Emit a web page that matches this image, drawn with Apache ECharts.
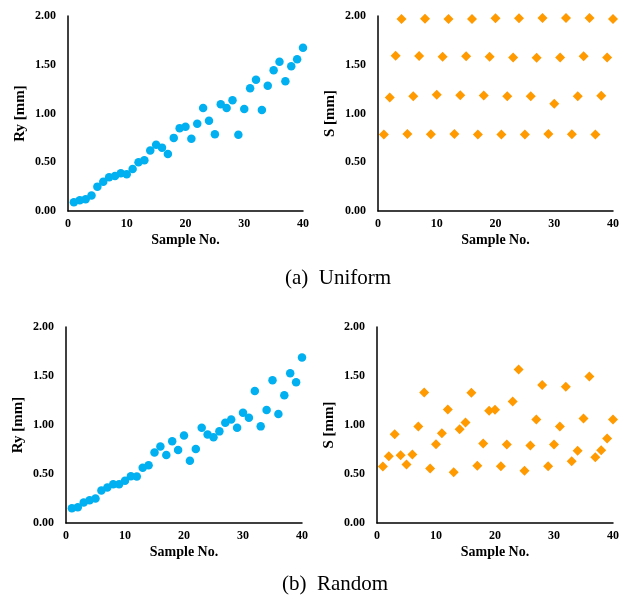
<!DOCTYPE html>
<html>
<head>
<meta charset="utf-8">
<script src="https://cdn.jsdelivr.net/npm/echarts@6/dist/echarts.min.js"></script>
<style>html,body{margin:0;padding:0;background:#fff}#c{width:634px;height:597px}</style>
</head>
<body>
<div id="c"></div>
<script>
const sampleNo = Array.from({length: 40}, (_, i) => i + 1);
const yTicks = ['0.00', '0.50', '1.00', '1.50', '2.00'];
const xTicks = [0, 10, 20, 30, 40];

const uniformRy = [0.09,0.11,0.12,0.16,0.25,0.30,0.345,0.36,0.386,0.376,
  0.43,0.50,0.52,0.62,0.68,0.65,0.585,0.75,0.85,0.865,
  0.74,0.895,1.056,0.926,0.786,1.094,1.056,1.135,0.783,1.046,
  1.258,1.347,1.036,1.285,1.443,1.53,1.33,1.484,1.556,1.675];
const uniformS = [0.784,1.164,1.592,1.969,0.791,1.178,1.589,1.973,0.788,1.192,
  1.582,1.969,0.791,1.188,1.586,1.969,0.784,1.185,1.582,1.976,
  0.784,1.178,1.575,1.976,0.784,1.178,1.572,1.979,0.791,1.099,
  1.575,1.979,0.788,1.178,1.586,1.979,0.784,1.181,1.575,1.969];
const randomRy = [0.15,0.16,0.21,0.232,0.249,0.331,0.362,0.396,0.396,0.43,
  0.478,0.474,0.563,0.59,0.72,0.78,0.693,0.833,0.744,0.894,
  0.635,0.754,0.973,0.904,0.874,0.935,1.024,1.055,0.973,1.126,
  1.075,1.348,0.986,1.154,1.457,1.113,1.304,1.529,1.437,1.689];
const randomS = [0.576,0.681,0.906,0.692,0.596,0.698,0.985,1.332,0.555,0.804,
  0.917,1.158,0.518,0.957,1.026,1.329,0.583,0.811,1.145,1.155,
  0.579,0.801,1.24,1.567,0.532,0.79,1.056,1.407,0.579,0.801,
  0.985,1.39,0.63,0.736,1.066,1.496,0.671,0.743,0.862,1.056];

const panels = [
  {data: uniformRy, yName: 'Ry [mm]', symbol: 'circle', size: 8.5, color: '#00B0F0', grid: {left: 68, top: 16, width: 235, height: 195}},
  {data: uniformS, yName: 'S [mm]', symbol: 'diamond', size: 10, color: '#FF9A00', grid: {left: 378, top: 16, width: 235, height: 195}},
  {data: randomRy, yName: 'Ry [mm]', symbol: 'circle', size: 8.5, color: '#00B0F0', grid: {left: 66, top: 327, width: 236, height: 196}},
  {data: randomS, yName: 'S [mm]', symbol: 'diamond', size: 10, color: '#FF9A00', grid: {left: 377, top: 327, width: 236, height: 196}}
];

const font = '"Liberation Serif", "Times New Roman", serif';
const axisLine = {show: true, onZero: false, lineStyle: {color: '#000', width: 1.5}};

const option = {
  animation: false,
  backgroundColor: '#fff',
  textStyle: {fontFamily: font},
  grid: panels.map(p => Object.assign({containLabel: false}, p.grid)),
  xAxis: panels.map((p, i) => ({
    type: 'value', gridIndex: i, min: xTicks[0], max: xTicks[xTicks.length - 1], interval: 10,
    name: 'Sample No.', nameLocation: 'middle', nameGap: 22,
    nameTextStyle: {fontFamily: font, fontWeight: 'bold', fontSize: 14, color: '#000'},
    axisLine: axisLine, axisTick: {show: false}, splitLine: {show: false},
    axisLabel: {fontFamily: font, fontWeight: 'bold', fontSize: 12, color: '#000', margin: 7}
  })),
  yAxis: panels.map((p, i) => ({
    type: 'value', gridIndex: i, min: 0, max: 2, interval: 0.5,
    name: p.yName, nameLocation: 'middle', nameGap: 40,
    nameTextStyle: {fontFamily: font, fontWeight: 'bold', fontSize: 15, color: '#000'},
    axisLine: axisLine, axisTick: {show: false}, splitLine: {show: false},
    axisLabel: {fontFamily: font, fontWeight: 'bold', fontSize: 12, color: '#000', margin: 12,
      formatter: v => yTicks[Math.round(v / 0.5)]}
  })),
  series: panels.map((p, i) => ({
    type: 'scatter', xAxisIndex: i, yAxisIndex: i,
    symbol: p.symbol, symbolSize: p.size,
    itemStyle: {color: p.color, opacity: 1},
    data: sampleNo.map((n, k) => [n, p.data[k]])
  })),
  graphic: [
    {type: 'text', x: 338, y: 278, style: {text: '(a)  Uniform', fontFamily: font, fontSize: 21, fill: '#000', textAlign: 'center', textVerticalAlign: 'middle'}},
    {type: 'text', x: 335, y: 584, style: {text: '(b)  Random', fontFamily: font, fontSize: 21, fill: '#000', textAlign: 'center', textVerticalAlign: 'middle'}}
  ]
};

const chart = echarts.init(document.getElementById('c'), null, {renderer: 'canvas'});
chart.setOption(option);
</script>
</body>
</html>
